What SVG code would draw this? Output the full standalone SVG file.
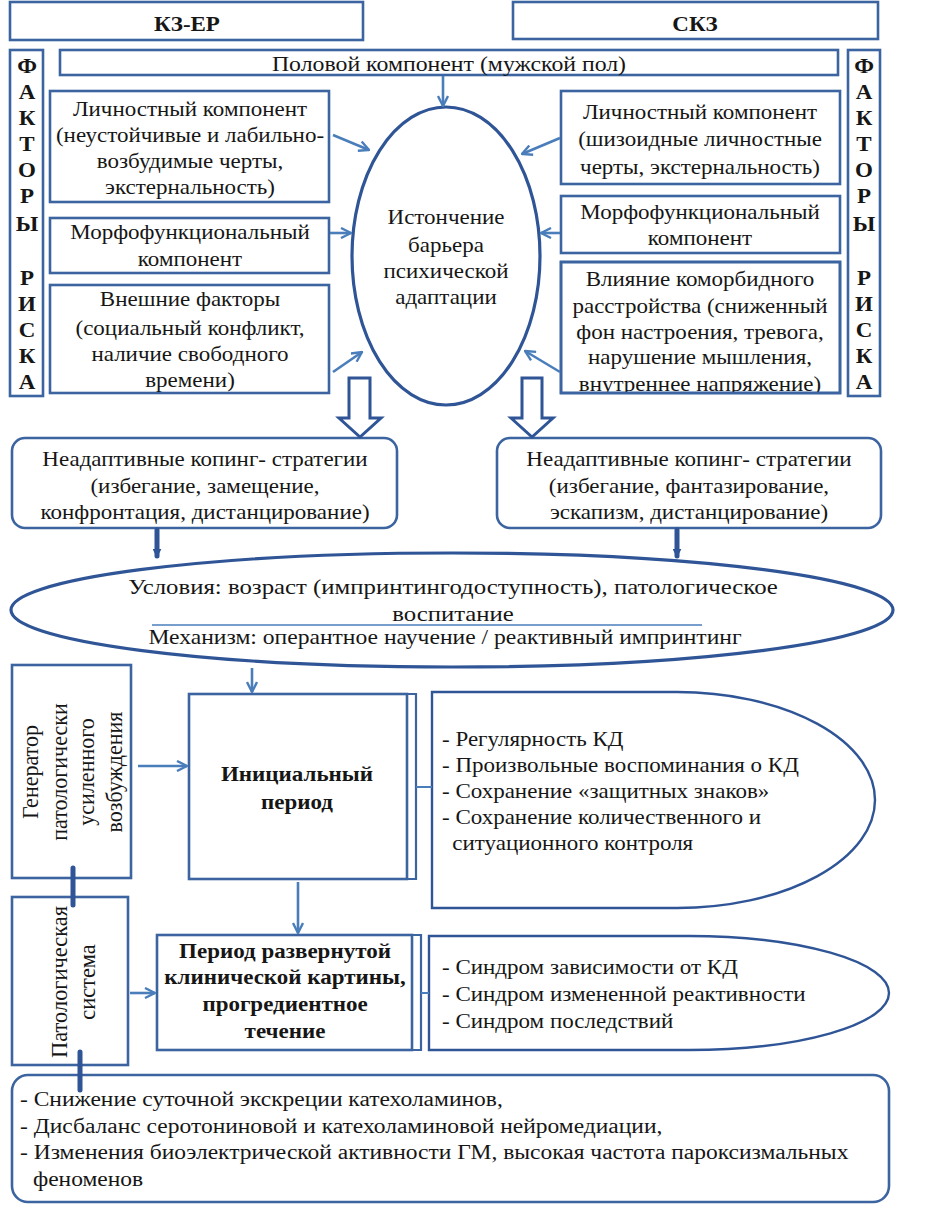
<svg xmlns="http://www.w3.org/2000/svg" width="927" height="1220" viewBox="0 0 927 1220">
<defs>
<style>
text{fill:#161616;font-size:20px}
.c{text-anchor:middle}
.b{font-weight:bold}
.box{fill:#fff;stroke:#3B64A0;stroke-width:2.6}
.ell{fill:#fff;stroke:#2F5597;stroke-width:3.2}
.ln{fill:none;stroke:#4A7EBB;stroke-width:2.6}
.thk{fill:none;stroke:#2F5597;stroke-width:5;stroke-linecap:round}
.hol{fill:#fff;stroke:#2F5597;stroke-width:3;stroke-linejoin:miter}
</style>
<marker id="ah" viewBox="0 0 12 12" refX="11" refY="6" markerWidth="12" markerHeight="12" markerUnits="userSpaceOnUse" orient="auto">
<path d="M1,1 L11,6 L1,11" fill="none" stroke="#4A7EBB" stroke-width="2.4"/>
</marker>
<marker id="ahd" viewBox="0 0 10 10" refX="8" refY="5" markerWidth="9" markerHeight="9" markerUnits="userSpaceOnUse" orient="auto">
<path d="M0,0 L10,5 L0,10 Z" fill="#2F5597"/>
</marker>
<clipPath id="clipV"><rect x="561" y="262" width="279" height="131"/></clipPath>
</defs>

<g id="hdr-left"><rect class="box" x="10" y="2" width="353" height="38"/><g transform="translate(187,0) scale(1.15,1)"><text font-family="Liberation Serif" class="c b" x="0" y="31">КЗ-ЕР</text></g></g>
<g id="hdr-right"><rect class="box" x="513" y="2" width="365" height="37"/><g transform="translate(695,0) scale(1.15,1)"><text font-family="Liberation Serif" class="c b" x="0" y="31">СКЗ</text></g></g>

<g id="risk-left"><rect class="box" x="10" y="50" width="33" height="346"/>
<g transform="translate(27,0) scale(1.15,1)">
<text font-family="Liberation Serif" class="c b" x="0" y="73">Ф</text><text font-family="Liberation Serif" class="c b" x="0" y="99">А</text><text font-family="Liberation Serif" class="c b" x="0" y="125">К</text><text font-family="Liberation Serif" class="c b" x="0" y="151">Т</text><text font-family="Liberation Serif" class="c b" x="0" y="177">О</text><text font-family="Liberation Serif" class="c b" x="0" y="203">Р</text><text font-family="Liberation Serif" class="c b" x="0" y="231">Ы</text>
<text font-family="Liberation Serif" class="c b" x="0" y="285">Р</text><text font-family="Liberation Serif" class="c b" x="0" y="311">И</text><text font-family="Liberation Serif" class="c b" x="0" y="337">С</text><text font-family="Liberation Serif" class="c b" x="0" y="363">К</text><text font-family="Liberation Serif" class="c b" x="0" y="389">А</text>
</g></g>
<g id="risk-right"><rect class="box" x="848" y="50" width="32" height="346"/>
<g transform="translate(864,0) scale(1.15,1)">
<text font-family="Liberation Serif" class="c b" x="0" y="73">Ф</text><text font-family="Liberation Serif" class="c b" x="0" y="99">А</text><text font-family="Liberation Serif" class="c b" x="0" y="125">К</text><text font-family="Liberation Serif" class="c b" x="0" y="151">Т</text><text font-family="Liberation Serif" class="c b" x="0" y="177">О</text><text font-family="Liberation Serif" class="c b" x="0" y="203">Р</text><text font-family="Liberation Serif" class="c b" x="0" y="231">Ы</text>
<text font-family="Liberation Serif" class="c b" x="0" y="285">Р</text><text font-family="Liberation Serif" class="c b" x="0" y="311">И</text><text font-family="Liberation Serif" class="c b" x="0" y="337">С</text><text font-family="Liberation Serif" class="c b" x="0" y="363">К</text><text font-family="Liberation Serif" class="c b" x="0" y="389">А</text>
</g></g>

<g id="sex"><rect class="box" x="60" y="50" width="778" height="25"/><g transform="translate(449,0) scale(1.19,1)"><text font-family="Liberation Serif" class="c" x="0" y="71">Половой компонент (мужской пол)</text></g></g>

<g id="pers-left"><rect class="box" x="50" y="91" width="279" height="111"/>
<g transform="translate(190,0) scale(1.15,1)">
<text font-family="Liberation Serif" class="c" x="0" y="116">Личностный компонент</text>
<text font-family="Liberation Serif" class="c" x="0" y="142">(неустойчивые и лабильно-</text>
<text font-family="Liberation Serif" class="c" x="0" y="168">возбудимые черты,</text>
<text font-family="Liberation Serif" class="c" x="0" y="194">экстернальность)</text></g></g>
<g id="morph-left"><rect class="box" x="50" y="218" width="279" height="55"/>
<g transform="translate(190,0) scale(1.15,1)">
<text font-family="Liberation Serif" class="c" x="0" y="239">Морфофункциональный</text>
<text font-family="Liberation Serif" class="c" x="0" y="266">компонент</text></g></g>
<g id="ext-left"><rect class="box" x="50" y="285" width="279" height="108"/>
<g transform="translate(190,0) scale(1.15,1)">
<text font-family="Liberation Serif" class="c" x="0" y="306">Внешние факторы</text>
<text font-family="Liberation Serif" class="c" x="0" y="335">(социальный конфликт,</text>
<text font-family="Liberation Serif" class="c" x="0" y="361">наличие свободного</text>
<text font-family="Liberation Serif" class="c" x="0" y="387">времени)</text></g></g>

<g id="pers-right"><rect class="box" x="561" y="91" width="279" height="93"/>
<g transform="translate(700,0) scale(1.15,1)">
<text font-family="Liberation Serif" class="c" x="0" y="119">Личностный компонент</text>
<text font-family="Liberation Serif" class="c" x="0" y="146">(шизоидные личностные</text>
<text font-family="Liberation Serif" class="c" x="0" y="174">черты, экстернальность)</text></g></g>
<g id="morph-right"><rect class="box" x="561" y="196" width="279" height="57"/>
<g transform="translate(700,0) scale(1.15,1)">
<text font-family="Liberation Serif" class="c" x="0" y="219">Морфофункциональный</text>
<text font-family="Liberation Serif" class="c" x="0" y="245">компонент</text></g></g>
<g id="comorb-right"><rect class="box" x="561" y="262" width="279" height="131"/>
<g clip-path="url(#clipV)"><g transform="translate(700,0) scale(1.15,1)">
<text font-family="Liberation Serif" class="c" x="0" y="286">Влияние коморбидного</text>
<text font-family="Liberation Serif" class="c" x="0" y="313">расстройства (сниженный</text>
<text font-family="Liberation Serif" class="c" x="0" y="339">фон настроения, тревога,</text>
<text font-family="Liberation Serif" class="c" x="0" y="364">нарушение мышления,</text>
<text font-family="Liberation Serif" class="c" x="0" y="391">внутреннее напряжение)</text></g></g>
<rect x="561" y="262" width="279" height="131" fill="none" stroke="#3B64A0" stroke-width="2.6"/></g>

<g id="barrier"><ellipse class="ell" cx="446" cy="256" rx="94" ry="149"/>
<g transform="translate(446,0) scale(1.15,1)">
<text font-family="Liberation Serif" class="c" x="0" y="224">Истончение</text>
<text font-family="Liberation Serif" class="c" x="0" y="252">барьера</text>
<text font-family="Liberation Serif" class="c" x="0" y="278">психической</text>
<text font-family="Liberation Serif" class="c" x="0" y="304">адаптации</text></g></g>

<g id="coping-left"><rect class="box" x="12" y="438" width="385" height="90" rx="13"/>
<g transform="translate(205,0) scale(1.15,1)">
<text font-family="Liberation Serif" class="c" x="0" y="466">Неадаптивные копинг- стратегии</text>
<text font-family="Liberation Serif" class="c" x="0" y="493">(избегание, замещение,</text>
<text font-family="Liberation Serif" class="c" x="0" y="519">конфронтация, дистанцирование)</text></g></g>
<g id="coping-right"><rect class="box" x="497" y="438" width="384" height="90" rx="13"/>
<g transform="translate(689,0) scale(1.15,1)">
<text font-family="Liberation Serif" class="c" x="0" y="466">Неадаптивные копинг- стратегии</text>
<text font-family="Liberation Serif" class="c" x="0" y="493">(избегание, фантазирование,</text>
<text font-family="Liberation Serif" class="c" x="0" y="519">эскапизм, дистанцирование)</text></g></g>

<g id="conditions"><ellipse class="ell" cx="452" cy="610" rx="441" ry="57" stroke-width="2.4"/>
<line x1="152" y1="625" x2="702" y2="625" stroke="#4A7EBB" stroke-width="1.5"/>
<g transform="translate(453,0) scale(1.24,1)">
<text font-family="Liberation Serif" class="c" x="0" y="594">Условия: возраст (импринтингодоступность), патологическое</text>
<text font-family="Liberation Serif" class="c" x="0" y="621">воспитание</text></g>
<g transform="translate(445,0) scale(1.18,1)">
<text font-family="Liberation Serif" class="c" x="0" y="644">Механизм: оперантное научение / реактивный  импринтинг</text></g></g>

<g id="generator"><rect class="box" x="12" y="665" width="119" height="213"/>
<text font-family="Liberation Serif" class="c" transform="translate(38,772) rotate(-90) scale(1.1,1.15)">Генератор</text>
<text font-family="Liberation Serif" class="c" transform="translate(67,772) rotate(-90) scale(1.1,1.15)">патологически</text>
<text font-family="Liberation Serif" class="c" transform="translate(94,772) rotate(-90) scale(1.1,1.15)">усиленного</text>
<text font-family="Liberation Serif" class="c" transform="translate(122,772) rotate(-90) scale(1.1,1.15)">возбуждения</text></g>

<g id="initial"><rect class="box" x="189" y="694" width="218" height="185"/>
<path d="M407,694 H416 V879 H407" fill="none" stroke="#3B64A0" stroke-width="2.2"/>
<g transform="translate(297,0) scale(1.15,1)">
<text font-family="Liberation Serif" class="c b" x="0" y="781">Инициальный</text>
<text font-family="Liberation Serif" class="c b" x="0" y="809">период</text></g></g>

<g id="initial-signs"><path d="M432,692 H677 A198 108 0 0 1 677,908 H432 Z" fill="#fff" stroke="#2F5597" stroke-width="2.4"/>
<g transform="translate(442,0) scale(1.15,1)">
<text font-family="Liberation Serif" x="0" y="746">- Регулярность КД</text>
<text font-family="Liberation Serif" x="0" y="772">- Произвольные воспоминания о КД</text>
<text font-family="Liberation Serif" x="0" y="798">- Сохранение «защитных знаков»</text>
<text font-family="Liberation Serif" x="0" y="824">- Сохранение количественного и</text>
<text font-family="Liberation Serif" x="9" y="850">ситуационного контроля</text></g></g>

<g id="pathsys"><rect class="box" x="12" y="897" width="116" height="168"/>
<text font-family="Liberation Serif" class="c" transform="translate(67,982) rotate(-90) scale(1.12,1.15)">Патологическая</text>
<text font-family="Liberation Serif" class="c" transform="translate(95,982) rotate(-90) scale(1.12,1.15)">система</text></g>

<g id="full"><rect class="box" x="157" y="935" width="255" height="115"/>
<path d="M412,935 H421 V1050 H412" fill="none" stroke="#3B64A0" stroke-width="2.2"/>
<g transform="translate(285,0) scale(1.15,1)">
<text font-family="Liberation Serif" class="c b" x="0" y="958">Период развернутой</text>
<text font-family="Liberation Serif" class="c b" x="0" y="984">клинической картины,</text>
<text font-family="Liberation Serif" class="c b" x="0" y="1011">прогредиентное</text>
<text font-family="Liberation Serif" class="c b" x="0" y="1038">течение</text></g></g>

<g id="full-signs"><path d="M429,936 H689 A200 57 0 0 1 689,1050 H429 Z" fill="#fff" stroke="#2F5597" stroke-width="2.4"/>
<g transform="translate(442,0) scale(1.15,1)">
<text font-family="Liberation Serif" x="0" y="974">- Синдром зависимости от КД</text>
<text font-family="Liberation Serif" x="0" y="1001">- Синдром измененной реактивности</text>
<text font-family="Liberation Serif" x="0" y="1028">- Синдром последствий</text></g></g>

<g id="bio"><rect class="box" x="12" y="1075" width="877" height="127" rx="16"/>
<g transform="translate(20,0) scale(1.175,1)">
<text font-family="Liberation Serif" x="0" y="1106">- Снижение суточной экскреции катехоламинов,</text>
<text font-family="Liberation Serif" x="0" y="1133">- Дисбаланс серотониновой и катехоламиновой нейромедиации,</text>
<text font-family="Liberation Serif" x="0" y="1159">- Изменения биоэлектрической активности ГМ, высокая частота пароксизмальных</text>
<text font-family="Liberation Serif" x="11" y="1186">феноменов</text></g></g>

<g id="connectors">
<line class="ln" x1="443" y1="76" x2="443" y2="106" marker-end="url(#ah)"/>
<line class="ln" x1="333" y1="135" x2="369" y2="150" marker-end="url(#ah)"/>
<line class="ln" x1="330" y1="233" x2="351" y2="233" marker-end="url(#ah)"/>
<line class="ln" x1="333" y1="372" x2="362" y2="352" marker-end="url(#ah)"/>
<line class="ln" x1="560" y1="138" x2="522" y2="154" marker-end="url(#ah)"/>
<line class="ln" x1="560" y1="233" x2="541" y2="233" marker-end="url(#ah)"/>
<line class="ln" x1="560" y1="372" x2="525" y2="351" marker-end="url(#ah)"/>
<path class="hol" d="M349,378 H370 V418 H381 L360,437 L339,418 H349 Z"/>
<path class="hol" d="M522,378 H542 V418 H553 L532,437 L511,418 H522 Z"/>
<line class="thk" x1="157" y1="530" x2="157" y2="556" stroke-width="4" marker-end="url(#ahd)"/>
<line class="thk" x1="677" y1="530" x2="677" y2="556" stroke-width="4" marker-end="url(#ahd)"/>
<line class="ln" x1="252" y1="668" x2="252" y2="692" marker-end="url(#ah)"/>
<line class="ln" x1="138" y1="766" x2="187" y2="766" stroke-width="3" marker-end="url(#ah)"/>
<line class="ln" x1="298" y1="882" x2="298" y2="933" marker-end="url(#ah)"/>
<path d="M416,787 H432" fill="none" stroke="#4A7EBB" stroke-width="2"/>
<path d="M421,993 H429" fill="none" stroke="#4A7EBB" stroke-width="2"/>
<line class="thk" x1="73" y1="868" x2="73" y2="905"/>
<line class="thk" x1="80" y1="1052" x2="80" y2="1090"/>
<line class="ln" x1="130" y1="993" x2="155" y2="993" stroke-width="5" marker-end="url(#ah)"/>
</g>
</svg>
